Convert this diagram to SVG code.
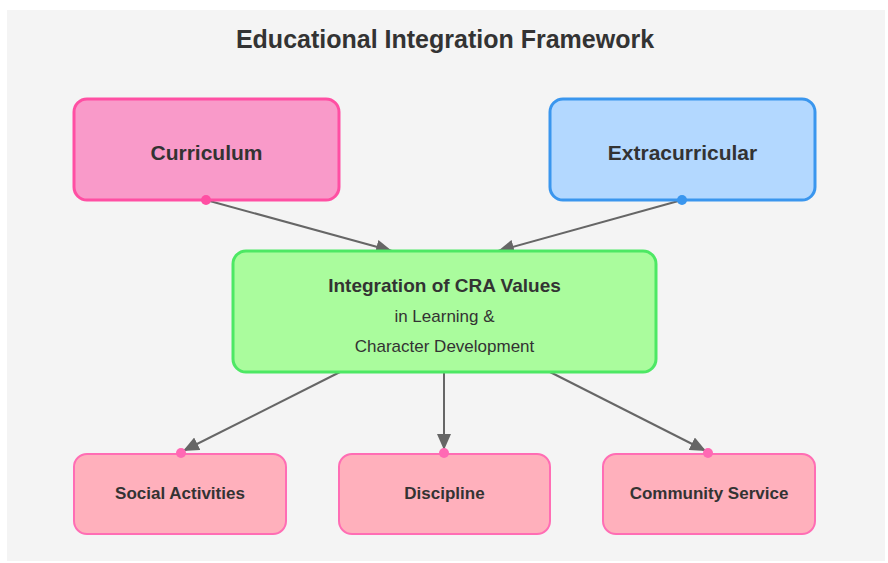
<svg xmlns="http://www.w3.org/2000/svg" width="888" height="563" viewBox="0 0 888 563">
  <defs>
    <marker id="arrow" viewBox="0 0 16 14" refX="16" refY="7" markerWidth="16" markerHeight="14" markerUnits="userSpaceOnUse" orient="auto">
      <path d="M0,0 L16,7 L0,14 Z" fill="#666"/>
    </marker>
    <style>
      text { font-family: "Liberation Sans", Arial, sans-serif; fill: #333; text-anchor: middle; }
      .title { font-size: 25px; font-weight: bold; }
      .big { font-size: 21px; font-weight: bold; }
      .mid { font-size: 19px; font-weight: bold; }
      .sub { font-size: 17px; }
      .small { font-size: 17px; font-weight: bold; }
      .edge { stroke: #666; stroke-width: 2; fill: none; marker-end: url(#arrow); }
      .leaf rect { fill: #ffb0bc; stroke: #ff6db4; stroke-width: 2; }
    </style>
  </defs>

  <rect x="0" y="0" width="888" height="563" fill="#ffffff"/>
  <rect x="7" y="10" width="878" height="551" fill="#f4f4f4"/>

  <text class="title" x="445" y="48">Educational Integration Framework</text>

  <!-- connectors -->
  <g id="connectors">
    <line class="edge" x1="206" y1="200" x2="392" y2="251"/>
    <line class="edge" x1="682" y1="200" x2="498" y2="251"/>
    <line class="edge" x1="340" y1="372" x2="183" y2="451"/>
    <line class="edge" x1="444" y1="372" x2="444" y2="450"/>
    <line class="edge" x1="550" y1="372" x2="706" y2="451"/>
  </g>

  <g id="curriculum">
    <rect x="74" y="99" width="265" height="101" rx="13" fill="#f99ac9" stroke="#ff4fa3" stroke-width="3"/>
    <text class="big" x="206.5" y="160">Curriculum</text>
  </g>

  <g id="extracurricular">
    <rect x="550" y="99" width="265" height="101" rx="13" fill="#b3d8ff" stroke="#3a96ee" stroke-width="3"/>
    <text class="big" x="682.5" y="160">Extracurricular</text>
  </g>

  <g id="integration">
    <rect x="233" y="251" width="423" height="121" rx="13" fill="#aafc9d" stroke="#4de864" stroke-width="3"/>
    <text class="mid" x="444.5" y="292">Integration of CRA Values</text>
    <text class="sub" x="444.5" y="322">in Learning &amp;</text>
    <text class="sub" x="444.5" y="352">Character Development</text>
  </g>

  <g id="social" class="leaf">
    <rect x="74" y="454" width="212" height="80" rx="13"/>
    <text class="small" x="180" y="499">Social Activities</text>
  </g>

  <g id="discipline" class="leaf">
    <rect x="339" y="454" width="211" height="80" rx="13"/>
    <text class="small" x="444.5" y="499">Discipline</text>
  </g>

  <g id="community" class="leaf">
    <rect x="603" y="454" width="212" height="80" rx="13"/>
    <text class="small" x="709" y="499">Community Service</text>
  </g>

  <!-- endpoint dots -->
  <g id="endpoints">
    <circle cx="206" cy="200" r="5" fill="#ff4fa3"/>
    <circle cx="682" cy="200" r="5" fill="#3a96ee"/>
    <circle cx="181" cy="453" r="5" fill="#ff69b4"/>
    <circle cx="444" cy="453" r="5" fill="#ff69b4"/>
    <circle cx="708" cy="453" r="5" fill="#ff69b4"/>
  </g>
</svg>
